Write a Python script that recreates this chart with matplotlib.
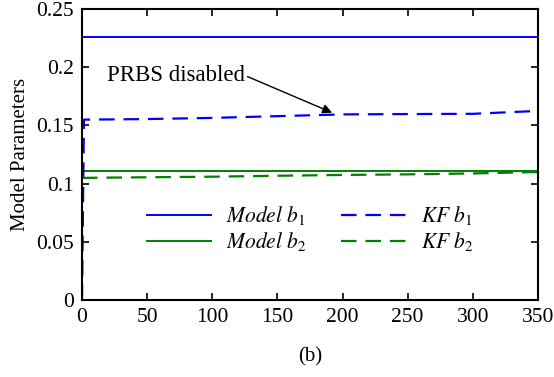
import numpy as np
import matplotlib
matplotlib.use("Agg")
import matplotlib.pyplot as plt

plt.rcParams['font.family'] = ['Liberation Serif', 'DejaVu Serif']
plt.rcParams['mathtext.fontset'] = 'stix'

# --------------------------- DATA ---------------------------
x_model = [0, 350]
model_b1 = [0.226, 0.226]
model_b2 = [0.111, 0.111]

x_kf = [0, 1.5, 50, 100, 150, 200, 250, 300, 350]
kf_b1 = [0.0, 0.155, 0.1555, 0.1565, 0.158, 0.1595, 0.1598, 0.160, 0.1625]
kf_b2 = [0.105, 0.105, 0.1055, 0.106, 0.1068, 0.1075, 0.108, 0.1088, 0.110]

x_ticks = [0, 50, 100, 150, 200, 250, 300, 350]
y_ticks = [0, 0.05, 0.1, 0.15, 0.2, 0.25]
y_ticklabels = ['0', '0.05', '0.1', '0.15', '0.2', '0.25']

BLUE = '#0000ff'
GREEN = '#008000'
DASH = (0, (7, 4))

# --------------------------- PLOT ---------------------------
fig = plt.figure(figsize=(5.54, 3.77), dpi=100)
ax = fig.add_axes([0.148, 0.204, 0.823, 0.772])

ax.plot(x_model, model_b1, color=BLUE, lw=1.4, label='$Model\\ b_1$')
ax.plot(x_model, model_b2, color=GREEN, lw=1.4, label='$Model\\ b_2$')
ax.plot(x_kf, kf_b1, color=BLUE, lw=1.6, linestyle=DASH, label='$KF\\ b_1$')
ax.plot(x_kf, kf_b2, color=GREEN, lw=1.6, linestyle=DASH, label='$KF\\ b_2$')

ax.annotate('PRBS disabled', xy=(192, 0.161), xytext=(19, 0.193),
            fontsize=16.5, va='center', ha='left',
            arrowprops=dict(arrowstyle='-|>', color='black', lw=1.0,
                            mutation_scale=14, shrinkA=0, shrinkB=0,
                            relpos=(1.0, 0.5)))

ax.set_xlim(0, 350)
ax.set_ylim(0, 0.25)
ax.set_xticks(x_ticks)
ax.set_yticks(y_ticks)
ax.set_yticklabels(y_ticklabels)
ax.tick_params(direction='in', top=True, right=True, length=5, width=1.2,
               labelsize=15.5, pad=6)
for s in ax.spines.values():
    s.set_linewidth(1.5)

ax.set_ylabel('Model Parameters', fontsize=15, labelpad=4)
ax.set_xlabel('(b)', fontsize=15, labelpad=14)

ax.legend(ncol=2, frameon=False, fontsize=15.5, loc='center',
          bbox_to_anchor=(0.5, 0.245), handlelength=3.0, columnspacing=1.6,
          labelspacing=0.15, handletextpad=0.7)

fig.savefig('out.png', dpi=100)
